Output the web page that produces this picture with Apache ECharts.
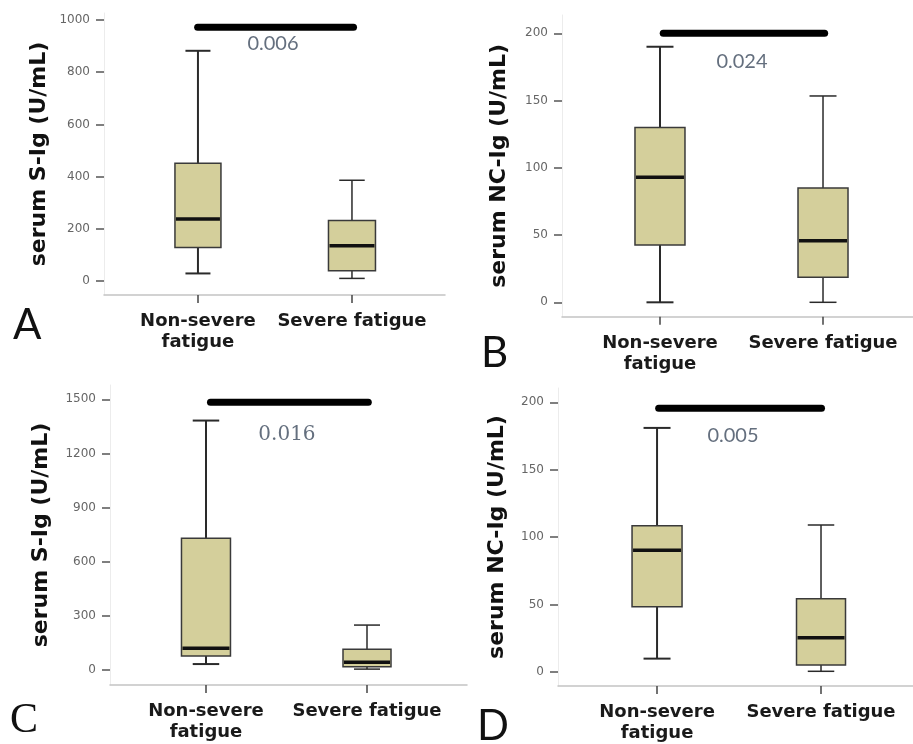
<!DOCTYPE html>
<html><head><meta charset="utf-8">
<script src="https://cdn.jsdelivr.net/npm/echarts@6/dist/echarts.min.js"></script>
<style>html,body{margin:0;padding:0;background:#fff}#c{width:913px;height:744px}</style>
</head><body><div id="c"></div>
<script>
// ---------- data ----------
const categories = ['Non-severe\nfatigue', 'Severe fatigue'];
const catPos = [1, 2];
// box values: [min, Q1, median, Q3, max]
const nonSevereA = [29, 128, 238, 451, 882];
const severeA    = [10, 39, 135, 232, 386];
const nonSevereB = [0, 42.6, 93, 130, 190];
const severeB    = [0, 18.6, 45.8, 85, 153.4];
const nonSevereC = [33, 78, 120, 730, 1382];
const severeC    = [5, 18, 43, 115, 249];
const nonSevereD = [9.9, 48.4, 90.2, 108.5, 181];
const severeD    = [0.5, 5.2, 25.4, 54.3, 109];
const ticksA = [0, 200, 400, 600, 800, 1000];
const ticksB = [0, 50, 100, 150, 200];
const ticksC = [0, 300, 600, 900, 1200, 1500];
const ticksD = [0, 50, 100, 150, 200];
const pValues = ['0.006', '0.024', '0.016', '0.005'];
// significance bar: [x from, x to, y level]
const sigBarA = [0.998, 2.01, 972];
const sigBarB = [1.02, 2.01, 200];
const sigBarC = [1.028, 2.008, 1483];
const sigBarD = [1.01, 2.003, 195.6];
// p-value text anchor: [x, y]
const pLabelA = [1.487, 908];
const pLabelB = [1.503, 178.7];
const pLabelC = [1.503, 1302];
const pLabelD = [1.463, 175];
const panelLetters = ['A', 'B', 'C', 'D'];
const yTitles = ['serum S-Ig (U/mL)', 'serum NC-Ig (U/mL)', 'serum S-Ig (U/mL)', 'serum NC-Ig (U/mL)'];

// ---------- layout / style ----------
const panels = [
  {box:[nonSevereA, severeA], ticks:ticksA, bar:sigBarA, pl:pLabelA,
   left:104, top:13, width:341, height:282, xMin:0.39, xMax:2.604, yMin:-53.6, yMax:1026.8,
   nameGap:54, boxW:[46,47], pFont:'Lato', letter:{x:13, y:325, font:'42px Lato'}},
  {box:[nonSevereB, severeB], ticks:ticksB, bar:sigBarB, pl:pLabelB,
   left:562, top:15, width:351, height:301.7, xMin:0.399, xMax:2.552, yMin:-10.7, yMax:213.6,
   nameGap:52, boxW:[50,50], pFont:'Lato', letter:{x:481, y:353, font:'42px Lato'}},
  {box:[nonSevereC, severeC], ticks:ticksC, bar:sigBarC, pl:pLabelC,
   left:110, top:385, width:357, height:300, xMin:0.404, xMax:2.621, yMin:-83, yMax:1579,
   nameGap:58, boxW:[49,48], pFont:'DejaVu Serif', letter:{x:10, y:721, font:'42px "Liberation Serif"'}},
  {box:[nonSevereD, severeD], ticks:ticksD, bar:sigBarD, pl:pLabelD,
   left:558, top:388, width:355, height:298.7, xMin:0.396, xMax:2.561, yMin:-10.4, yMax:210.6,
   nameGap:50, boxW:[50,49], pFont:'Lato', letter:{x:477, y:726, font:'42px Lato'}}
];

function renderBox(panel) {
  return function (params, api) {
    const idx = params.dataIndex;
    const x = api.value(0);
    const c = [1, 2, 3, 4, 5].map(i => api.coord([x, api.value(i)]));
    const cx = c[0][0];
    const hw = panel.boxW[idx] / 2;
    const capHw = hw / 2 + 1;
    const wl = idx === 0 ? 2 : 1.5;
    const stroke = '#2a2a2a';
    return {
      type: 'group',
      children: [
        {type:'line', shape:{x1:cx, y1:c[4][1], x2:cx, y2:c[3][1]}, style:{stroke, lineWidth:wl}},
        {type:'line', shape:{x1:cx, y1:c[1][1], x2:cx, y2:c[0][1]}, style:{stroke, lineWidth:wl}},
        {type:'line', shape:{x1:cx-capHw, y1:c[4][1], x2:cx+capHw, y2:c[4][1]}, style:{stroke, lineWidth:wl}},
        {type:'line', shape:{x1:cx-capHw, y1:c[0][1], x2:cx+capHw, y2:c[0][1]}, style:{stroke, lineWidth:wl}},
        {type:'rect', shape:{x:cx-hw, y:c[3][1], width:2*hw, height:c[1][1]-c[3][1]},
         style:{fill:'#d4cf9b', stroke:'#3a3a3a', lineWidth:1.5}},
        {type:'line', shape:{x1:cx-hw+1, y1:c[2][1], x2:cx+hw-1, y2:c[2][1]}, style:{stroke:'#111', lineWidth:3.5}}
      ]
    };
  };
}

const grid = [], xAxis = [], yAxis = [], series = [];
panels.forEach((p, i) => {
  grid.push({left:p.left, top:p.top, width:p.width, height:p.height});
  xAxis.push({
    gridIndex:i, type:'value', min:p.xMin, max:p.xMax,
    axisLine:{show:true, onZero:false, lineStyle:{color:'#c4c4c4', width:1.5}},
    axisTick:{show:true, customValues:catPos, length:8, lineStyle:{color:'#444', width:1.5}},
    axisLabel:{customValues:catPos, formatter:v => categories[catPos.indexOf(v)], margin:16,
      fontFamily:'DejaVu Sans', fontWeight:'bold', fontSize:18, lineHeight:21, color:'#1a1a1a'},
    splitLine:{show:false}
  });
  yAxis.push({
    gridIndex:i, type:'value', min:p.yMin, max:p.yMax,
    name:yTitles[i], nameLocation:'middle', nameGap:p.nameGap, nameRotate:90,
    nameTextStyle:{fontFamily:'DejaVu Sans', fontWeight:'bold', fontSize:22, color:'#111'},
    axisLine:{show:true, onZero:false, lineStyle:{color:'#ececec', width:1}},
    axisTick:{show:true, customValues:p.ticks, length:8, lineStyle:{color:'#555', width:1.5}},
    axisLabel:{customValues:p.ticks, formatter:v => String(v), margin:14,
      fontFamily:'DejaVu Sans', fontSize:12, color:'#666'},
    splitLine:{show:false}
  });
  series.push({
    type:'custom', xAxisIndex:i, yAxisIndex:i, renderItem:renderBox(p),
    encode:{x:0, y:[1,2,3,4,5]},
    data:p.box.map((b, k) => [catPos[k]].concat(b)), z:3
  });
  series.push({
    type:'line', xAxisIndex:i, yAxisIndex:i, symbol:'none',
    lineStyle:{color:'#000', width:7, cap:'round'},
    data:[[p.bar[0], p.bar[2]], [p.bar[1], p.bar[2]]], z:4
  });
  series.push({
    type:'scatter', xAxisIndex:i, yAxisIndex:i, symbolSize:1,
    itemStyle:{color:'rgba(0,0,0,0)'},
    label:{show:true, position:'inside', formatter:pValues[i],
      fontFamily:p.pFont, fontSize:20, color:'#3d4b5e'},
    data:[p.pl], z:5
  });
});

const chart = echarts.init(document.getElementById('c'), null, {renderer:'canvas'});
chart.setOption({
  animation:false,
  backgroundColor:'#fff',
  grid, xAxis, yAxis, series,
  graphic: panels.map((p, i) => ({
    type:'text', x:p.letter.x, y:p.letter.y,
    style:{text:panelLetters[i], font:p.letter.font, fill:'#111', verticalAlign:'middle'}
  }))
});
</script></body></html>
